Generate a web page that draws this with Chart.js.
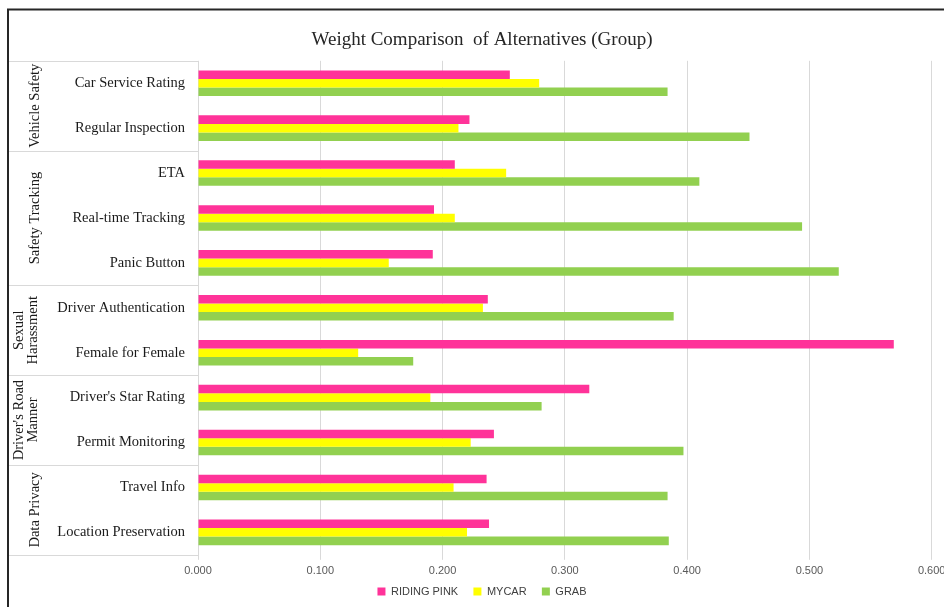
<!DOCTYPE html>
<html><head><meta charset="utf-8">
<script src="https://cdn.jsdelivr.net/npm/chart.js@4"></script>
<style>
html,body{margin:0;padding:0;overflow:hidden;background:#fff;width:944px;height:607px}
canvas{position:absolute;left:0;top:0}
</style></head>
<body>
<canvas id="c" width="964" height="607" style="width:964px;height:607px"></canvas>
<script>
const titleText = "Weight Comparison  of Alternatives (Group)";
const categories = ["Car Service Rating","Regular Inspection","ETA","Real-time Tracking","Panic Button","Driver Authentication","Female for Female","Driver's Star Rating","Permit Monitoring","Travel Info","Location Preservation"];
const groupNames = [["Vehicle Safety"],["Safety Tracking"],["Sexual","Harassment"],["Driver's Road","Manner"],["Data Privacy"]];
const groupSizes = [2,3,2,2,2];
const seriesNames = ["RIDING PINK","MYCAR","GRAB"];
const ridingPink = [0.255,0.222,0.210,0.193,0.192,0.237,0.569,0.320,0.242,0.236,0.238];
const myCar      = [0.279,0.213,0.252,0.210,0.156,0.233,0.131,0.190,0.223,0.209,0.220];
const grab       = [0.384,0.451,0.410,0.494,0.524,0.389,0.176,0.281,0.397,0.384,0.385];
const xMin = 0, xMax = 0.6, xStep = 0.1;
const colors = ["#FF3399","#FFFF00","#92D050"];

const decor = {
  id:'decor',
  afterDraw(chart){
    const ctx = chart.ctx, ys = chart.scales.y, a = chart.chartArea;
    ctx.save();
    // outer frame
    ctx.strokeStyle = '#262626'; ctx.lineWidth = 2;
    ctx.beginPath(); ctx.moveTo(8, chart.height); ctx.lineTo(8, 9.5); ctx.lineTo(chart.width, 9.5); ctx.stroke();
    // group separator lines
    ctx.strokeStyle = '#d9d9d9'; ctx.lineWidth = 1;
    const bounds = [0]; let k = 0;
    groupSizes.forEach(s => { k += s; bounds.push(k); });
    bounds.forEach(b => {
      const yy = Math.round(ys.getPixelForValue(b - 0.5)) + 0.5;
      ctx.beginPath(); ctx.moveTo(9, yy); ctx.lineTo(a.left, yy); ctx.stroke();
    });
    // category labels
    ctx.fillStyle = '#1a1a1a';
    ctx.font = '14.5px "Liberation Serif"';
    ctx.textAlign = 'right'; ctx.textBaseline = 'middle';
    categories.forEach((c, i) => ctx.fillText(c, 185, ys.getPixelForValue(i)));
    // group labels (rotated)
    ctx.textAlign = 'center';
    for (let g = 0; g < groupNames.length; g++) {
      const yc = (ys.getPixelForValue(bounds[g] - 0.5) + ys.getPixelForValue(bounds[g + 1] - 0.5)) / 2;
      const lines = groupNames[g];
      const xs = lines.length === 1 ? [35] : [19, 33];
      lines.forEach((t, j) => {
        ctx.save();
        ctx.translate(xs[j], yc);
        ctx.rotate(-Math.PI / 2);
        ctx.fillText(t, 0, 0);
        ctx.restore();
      });
    }
    ctx.restore();
  }
};

new Chart(document.getElementById('c'), {
  type: 'bar',
  data: {
    labels: categories,
    datasets: [
      {label: seriesNames[0], data: ridingPink, backgroundColor: colors[0]},
      {label: seriesNames[1], data: myCar, backgroundColor: colors[1]},
      {label: seriesNames[2], data: grab, backgroundColor: colors[2]}
    ]
  },
  options: {
    indexAxis: 'y',
    responsive: false,
    animation: false,
    devicePixelRatio: 1,
    categoryPercentage: 0.57,
    barPercentage: 1.0,
    layout: {padding: 0},
    plugins: {
      title: {display: true, text: titleText, color: '#262626',
        font: {family: 'Liberation Serif', size: 19, weight: 'normal'},
        padding: {top: 29, bottom: 9}},
      legend: {position: 'bottom',
        labels: {boxWidth: 8, boxHeight: 8, padding: 3, color: '#404040',
          font: {family: 'Liberation Sans', size: 11},
          generateLabels: chart => {
            const items = Chart.defaults.plugins.legend.labels.generateLabels(chart);
            items.forEach((it, i) => { it.lineWidth = 0; if (i < items.length - 1) it.text = it.text + '    '; });
            return items;
          }}},
      tooltip: {enabled: false}
    },
    scales: {
      x: {
        min: xMin, max: xMax,
        ticks: {stepSize: xStep, color: '#595959', padding: 5,
          font: {family: 'Liberation Sans', size: 11},
          callback: v => Number(v).toFixed(3)},
        grid: {color: '#d9d9d9', lineWidth: 1, drawTicks: true, tickLength: 5},
        border: {display: false},
        afterFit: s => { s.paddingLeft = 0; s.paddingRight = 32.3; }
      },
      y: {
        ticks: {display: false},
        grid: {display: false},
        border: {display: false},
        afterFit: s => { s.width = 198; }
      }
    }
  },
  plugins: [decor]
});
</script>
</body></html>
